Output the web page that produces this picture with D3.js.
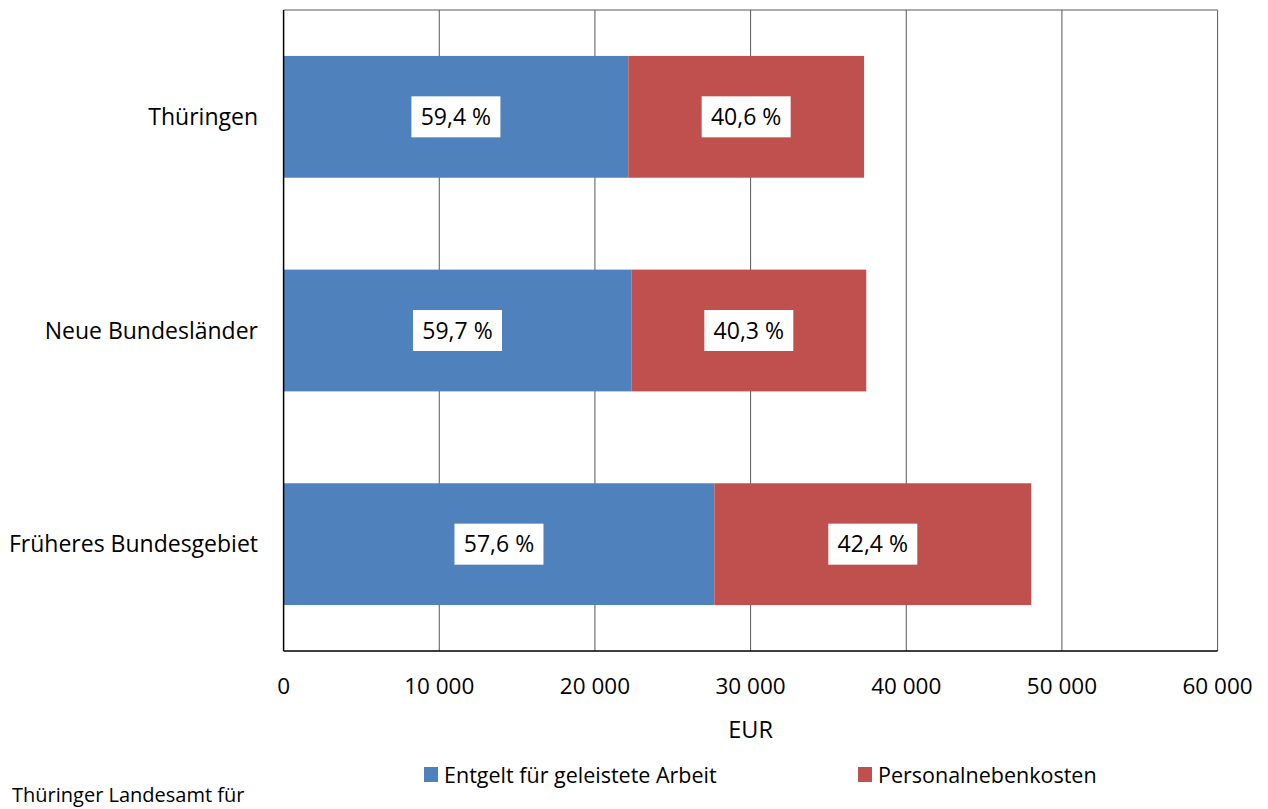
<!DOCTYPE html>
<html>
<head>
<meta charset="utf-8">
<script src="https://cdn.jsdelivr.net/npm/d3@7"></script>
<style>
  body { margin: 0; background: #fff; }
  text { font-family: "Open Sans", Lato, sans-serif; fill: #000; }
</style>
</head>
<body>
<div id="chart"></div>
<script>
// 1: DATA
const categories = ["Thüringen", "Neue Bundesländer", "Früheres Bundesgebiet"];
const entgelt = [22140, 22340, 27670];          // EUR
const nebenkosten = [15150, 15090, 20360];      // EUR
const entgeltPct = ["59,4 %", "59,7 %", "57,6 %"];
const nebenPct = ["40,6 %", "40,3 %", "42,4 %"];
const seriesNames = ["Entgelt für geleistete Arbeit", "Personalnebenkosten"];
const seriesColors = ["#4F81BD", "#C0504D"];
const xTicks = [0, 10000, 20000, 30000, 40000, 50000, 60000];

// 2: LAYOUT
const W = 1268, H = 809;
const plot = { left: 283.6, right: 1217.6, top: 10, bottom: 651 };

const svg = d3.select("#chart").append("svg")
    .attr("width", W)
    .attr("height", H);

// 3: SCALES
const x = d3.scaleLinear()
    .domain([0, 60000])
    .range([plot.left, plot.right]);

const y = d3.scaleBand()
    .domain(categories)
    .range([plot.top, plot.bottom])
    .paddingInner(0.43)
    .paddingOuter(0.215);

// stacked data
const rows = categories.map((c, i) => ({
    cat: c,
    vals: [entgelt[i], nebenkosten[i]],
    pcts: [entgeltPct[i], nebenPct[i]]
}));
const stack = d3.stack().keys([0, 1]).value((d, k) => d.vals[k]);
const layers = stack(rows);

// 4: GRID + FRAME
svg.append("g")
    .selectAll("line")
    .data(xTicks.slice(1))
    .enter()
    .append("line")
    .attr("x1", d => x(d)).attr("x2", d => x(d))
    .attr("y1", plot.top).attr("y2", plot.bottom)
    .style("stroke", "#595959")
    .style("stroke-width", 1);

svg.append("line")  // top border
    .attr("x1", plot.left).attr("x2", plot.right)
    .attr("y1", plot.top).attr("y2", plot.top)
    .style("stroke", "#595959");

// 5: BARS
layers.forEach((layer, k) => {
    svg.append("g")
        .selectAll("rect")
        .data(layer)
        .enter()
        .append("rect")
        .attr("x", d => x(d[0]))
        .attr("width", d => x(d[1]) - x(d[0]))
        .attr("y", d => y(d.data.cat))
        .attr("height", y.bandwidth())
        .style("fill", seriesColors[k]);
});

// 6: AXES
svg.append("line")
    .attr("x1", plot.left).attr("x2", plot.left)
    .attr("y1", plot.top).attr("y2", plot.bottom)
    .style("stroke", "#000").style("stroke-width", 1.5);
svg.append("line")
    .attr("x1", plot.left).attr("x2", plot.right)
    .attr("y1", plot.bottom).attr("y2", plot.bottom)
    .style("stroke", "#000").style("stroke-width", 1.5);

const fmt = d => d === 0 ? "0" : d3.format(",")(d).replace(",", " ");
svg.append("g")
    .selectAll("text")
    .data(xTicks)
    .enter()
    .append("text")
    .attr("x", d => x(d))
    .attr("y", 694)
    .attr("text-anchor", "middle")
    .style("font-size", "22.5px")
    .text(fmt);

svg.append("g")
    .selectAll("text")
    .data(categories)
    .enter()
    .append("text")
    .attr("x", 258)
    .attr("y", d => y(d) + y.bandwidth() / 2)
    .attr("dy", "0.36em")
    .attr("text-anchor", "end")
    .style("font-size", "23px")
    .text(d => d);

svg.append("text")
    .attr("x", (plot.left + plot.right) / 2)
    .attr("y", 738)
    .attr("text-anchor", "middle")
    .style("font-size", "23.5px")
    .text("EUR");

// 7: DATA LABELS (white boxes)
layers.forEach((layer, k) => {
    const g = svg.append("g")
        .selectAll("g")
        .data(layer)
        .enter()
        .append("g")
        .attr("transform", d => `translate(${x((d[0] + d[1]) / 2)}, ${y(d.data.cat) + y.bandwidth() / 2})`);
    g.append("rect")
        .attr("x", -44.5).attr("y", -20.5)
        .attr("width", 89).attr("height", 41)
        .style("fill", "#fff");
    g.append("text")
        .attr("text-anchor", "middle")
        .attr("dy", "0.36em")
        .style("font-size", "23px")
        .text(d => d.data.pcts[k]);
});

// 8: LEGEND
const legendX = [424, 858];
const legend = svg.selectAll(".legend")
    .data(seriesNames)
    .enter()
    .append("g")
    .attr("class", "legend")
    .attr("transform", (d, i) => `translate(${legendX[i]}, 767)`);
legend.append("rect")
    .attr("width", 14)
    .attr("height", 15)
    .style("fill", (d, i) => seriesColors[i]);
legend.append("text")
    .attr("x", 20)
    .attr("y", 16)
    .style("font-size", "21.5px")
    .text(d => d);

// 9: SOURCE NOTE
svg.append("text")
    .attr("x", 12)
    .attr("y", 802)
    .style("font-size", "20px")
    .text("Thüringer Landesamt für");
</script>
</body>
</html>
